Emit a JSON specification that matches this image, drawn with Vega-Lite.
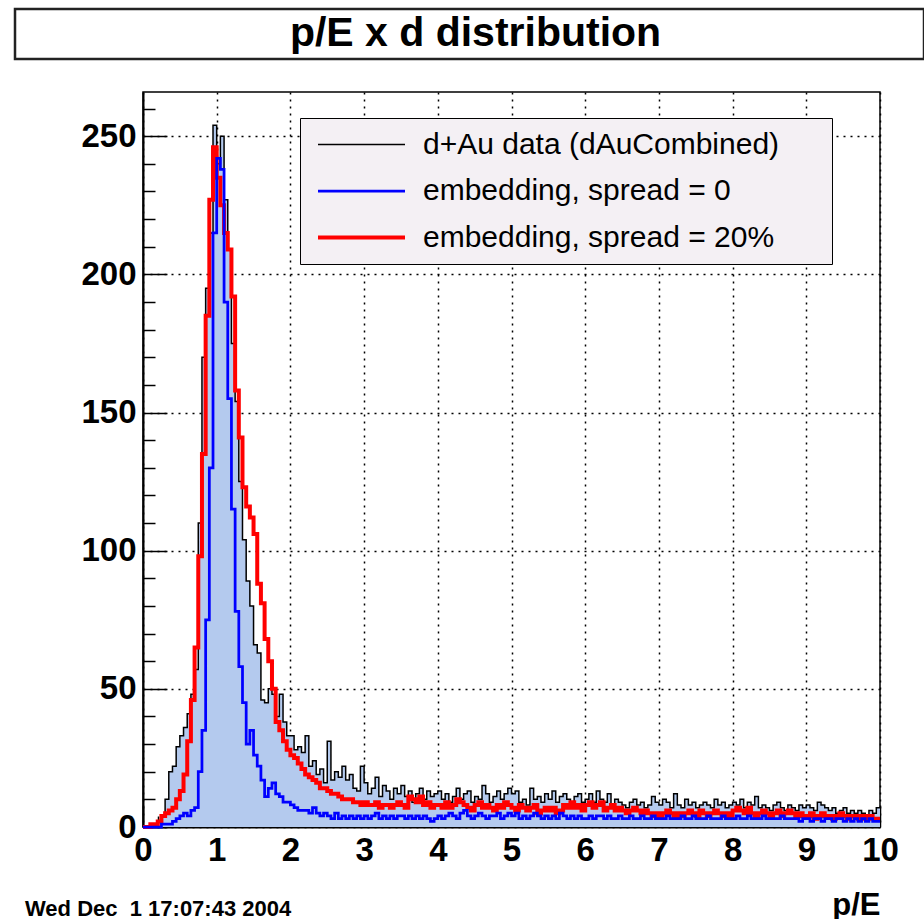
{
  "$schema": "https://vega.github.io/schema/vega-lite/v6.json",
  "background": "white",
  "padding": {"left": 13, "top": 7, "right": 0, "bottom": 0},
  "spacing": 30,
  "columns": 1,
  "config": {"font": "Liberation Sans", "view": {"stroke": null}},
  "concat": [
    {
      "width": 909,
      "height": 50,
      "view": {"stroke": "#222", "strokeWidth": 2.5, "fill": "white"},
      "data": {"values": [{"t": "p/E x d distribution"}]},
      "mark": {"type": "text", "font": "Liberation Sans", "fontWeight": "bold", "fontSize": 41, "color": "black", "dx": 6, "baseline": "middle"},
      "encoding": {"text": {"field": "t"}}
    },
    {
      "spacing": 0,
      "hconcat": [
    {
      "width": 1,
      "height": 10,
      "data": {"values": [{"t": ""}]},
      "mark": {"type": "text", "opacity": 0},
      "encoding": {"text": {"field": "t"}}
    },
    {
      "width": 737,
      "height": 735,
      "view": {"stroke": "black", "strokeWidth": 1.5},
      "title": {"text": "Wed Dec \u00a01 17:07:43 2004", "orient": "bottom", "anchor": "start", "frame": "group", "offset": -4, "dx": -118, "fontSize": 22, "fontWeight": "bold", "color": "black", "baseline": "alphabetic"},
      "data": {"values": [
        {"x":0.0,"d":0,"r":0,"b":0},{"x":0.05,"d":0,"r":0,"b":0},{"x":0.1,"d":1,"r":1,"b":0},{"x":0.15,"d":1,"r":1,"b":0},
        {"x":0.2,"d":2,"r":2,"b":0},{"x":0.25,"d":4,"r":4,"b":1},{"x":0.3,"d":10,"r":5,"b":1},{"x":0.35,"d":20,"r":6,"b":1},
        {"x":0.4,"d":22,"r":7,"b":2},{"x":0.45,"d":29,"r":10,"b":3},{"x":0.5,"d":33,"r":13,"b":4},{"x":0.55,"d":36,"r":19,"b":5},
        {"x":0.6,"d":41,"r":31,"b":4},{"x":0.65,"d":48,"r":46,"b":6},{"x":0.7,"d":57,"r":65,"b":7},{"x":0.75,"d":110,"r":98,"b":20},
        {"x":0.8,"d":170,"r":135,"b":35},{"x":0.85,"d":195,"r":185,"b":75},{"x":0.9,"d":215,"r":227,"b":130},{"x":0.95,"d":254,"r":246,"b":215},
        {"x":1.0,"d":240,"r":235,"b":242},{"x":1.05,"d":250,"r":225,"b":238},{"x":1.1,"d":227,"r":215,"b":190},{"x":1.15,"d":209,"r":209,"b":155},
        {"x":1.2,"d":175,"r":192,"b":115},{"x":1.25,"d":154,"r":158,"b":78},{"x":1.3,"d":125,"r":141,"b":58},{"x":1.35,"d":104,"r":123,"b":45},
        {"x":1.4,"d":89,"r":116,"b":30},{"x":1.45,"d":80,"r":112,"b":35},{"x":1.5,"d":66,"r":106,"b":26},{"x":1.55,"d":63,"r":88,"b":22},
        {"x":1.6,"d":46,"r":81,"b":17},{"x":1.65,"d":45,"r":68,"b":11},{"x":1.7,"d":50,"r":60,"b":14},{"x":1.75,"d":48,"r":50,"b":16},
        {"x":1.8,"d":40,"r":38,"b":12},{"x":1.85,"d":48,"r":35,"b":11},{"x":1.9,"d":38,"r":31,"b":9},{"x":1.95,"d":33,"r":28,"b":9},
        {"x":2.0,"d":33,"r":26,"b":8},{"x":2.05,"d":28,"r":25,"b":7},{"x":2.1,"d":29,"r":23,"b":6},{"x":2.15,"d":27,"r":21,"b":6},
        {"x":2.2,"d":33,"r":19,"b":6},{"x":2.25,"d":22,"r":18,"b":5},{"x":2.3,"d":24,"r":17,"b":7},{"x":2.35,"d":19,"r":16,"b":5},
        {"x":2.4,"d":21,"r":14,"b":4},{"x":2.45,"d":16,"r":14,"b":5},{"x":2.5,"d":31,"r":13,"b":4},{"x":2.55,"d":17,"r":12,"b":3},
        {"x":2.6,"d":20,"r":12,"b":5},{"x":2.65,"d":18,"r":11,"b":3},{"x":2.7,"d":22,"r":10,"b":4},{"x":2.75,"d":17,"r":10,"b":3},
        {"x":2.8,"d":19,"r":10,"b":4},{"x":2.85,"d":14,"r":9,"b":3},{"x":2.9,"d":13,"r":9,"b":4},{"x":2.95,"d":22,"r":8,"b":3},
        {"x":3.0,"d":16,"r":9,"b":4},{"x":3.05,"d":12,"r":8,"b":3},{"x":3.1,"d":14,"r":8,"b":4},{"x":3.15,"d":18,"r":9,"b":5},
        {"x":3.2,"d":11,"r":7,"b":3},{"x":3.25,"d":15,"r":8,"b":4},{"x":3.3,"d":13,"r":8,"b":3},{"x":3.35,"d":10,"r":7,"b":4},
        {"x":3.4,"d":14,"r":8,"b":3},{"x":3.45,"d":12,"r":9,"b":4},{"x":3.5,"d":15,"r":8,"b":4},{"x":3.55,"d":11,"r":7,"b":3},
        {"x":3.6,"d":13,"r":11,"b":4},{"x":3.65,"d":9,"r":10,"b":3},{"x":3.7,"d":12,"r":9,"b":4},{"x":3.75,"d":14,"r":11,"b":3},
        {"x":3.8,"d":10,"r":8,"b":4},{"x":3.85,"d":13,"r":9,"b":3},{"x":3.9,"d":11,"r":7,"b":2},{"x":3.95,"d":12,"r":8,"b":3},
        {"x":4.0,"d":13,"r":8,"b":4},{"x":4.05,"d":10,"r":7,"b":3},{"x":4.1,"d":12,"r":9,"b":4},{"x":4.15,"d":9,"r":7,"b":5},
        {"x":4.2,"d":11,"r":8,"b":4},{"x":4.25,"d":14,"r":10,"b":3},{"x":4.3,"d":10,"r":9,"b":5},{"x":4.35,"d":12,"r":8,"b":6},
        {"x":4.4,"d":13,"r":7,"b":4},{"x":4.45,"d":9,"r":6,"b":3},{"x":4.5,"d":11,"r":8,"b":4},{"x":4.55,"d":10,"r":9,"b":5},
        {"x":4.6,"d":15,"r":7,"b":4},{"x":4.65,"d":12,"r":8,"b":3},{"x":4.7,"d":9,"r":7,"b":4},{"x":4.75,"d":11,"r":6,"b":4},
        {"x":4.8,"d":13,"r":8,"b":5},{"x":4.85,"d":10,"r":7,"b":3},{"x":4.9,"d":12,"r":9,"b":4},{"x":4.95,"d":14,"r":8,"b":5},
        {"x":5.0,"d":12,"r":7,"b":4},{"x":5.05,"d":13,"r":6,"b":5},{"x":5.1,"d":9,"r":8,"b":3},{"x":5.15,"d":10,"r":7,"b":4},
        {"x":5.2,"d":8,"r":6,"b":3},{"x":5.25,"d":14,"r":7,"b":4},{"x":5.3,"d":10,"r":8,"b":5},{"x":5.35,"d":11,"r":5,"b":4},
        {"x":5.4,"d":9,"r":6,"b":3},{"x":5.45,"d":12,"r":7,"b":4},{"x":5.5,"d":10,"r":6,"b":3},{"x":5.55,"d":13,"r":7,"b":4},
        {"x":5.6,"d":9,"r":5,"b":3},{"x":5.65,"d":11,"r":6,"b":5},{"x":5.7,"d":12,"r":8,"b":4},{"x":5.75,"d":10,"r":7,"b":3},
        {"x":5.8,"d":8,"r":9,"b":4},{"x":5.85,"d":11,"r":7,"b":3},{"x":5.9,"d":12,"r":8,"b":4},{"x":5.95,"d":9,"r":6,"b":3},
        {"x":6.0,"d":10,"r":8,"b":3},{"x":6.05,"d":12,"r":9,"b":4},{"x":6.1,"d":9,"r":7,"b":3},{"x":6.15,"d":13,"r":8,"b":4},
        {"x":6.2,"d":10,"r":9,"b":4},{"x":6.25,"d":9,"r":6,"b":3},{"x":6.3,"d":12,"r":7,"b":4},{"x":6.35,"d":8,"r":8,"b":3},
        {"x":6.4,"d":10,"r":6,"b":3},{"x":6.45,"d":9,"r":7,"b":4},{"x":6.5,"d":8,"r":6,"b":3},{"x":6.55,"d":7,"r":5,"b":3},
        {"x":6.6,"d":9,"r":6,"b":4},{"x":6.65,"d":10,"r":7,"b":3},{"x":6.7,"d":8,"r":6,"b":3},{"x":6.75,"d":9,"r":5,"b":4},
        {"x":6.8,"d":7,"r":6,"b":3},{"x":6.85,"d":8,"r":5,"b":3},{"x":6.9,"d":11,"r":4,"b":4},{"x":6.95,"d":9,"r":5,"b":3},
        {"x":7.0,"d":8,"r":4,"b":3},{"x":7.05,"d":10,"r":5,"b":3},{"x":7.1,"d":9,"r":6,"b":4},{"x":7.15,"d":7,"r":5,"b":3},
        {"x":7.2,"d":12,"r":4,"b":3},{"x":7.25,"d":8,"r":5,"b":3},{"x":7.3,"d":7,"r":4,"b":4},{"x":7.35,"d":10,"r":5,"b":3},
        {"x":7.4,"d":8,"r":6,"b":3},{"x":7.45,"d":9,"r":5,"b":4},{"x":7.5,"d":7,"r":4,"b":3},{"x":7.55,"d":8,"r":6,"b":3},
        {"x":7.6,"d":9,"r":5,"b":3},{"x":7.65,"d":8,"r":4,"b":4},{"x":7.7,"d":7,"r":5,"b":3},{"x":7.75,"d":10,"r":6,"b":3},
        {"x":7.8,"d":8,"r":5,"b":3},{"x":7.85,"d":9,"r":4,"b":4},{"x":7.9,"d":7,"r":5,"b":3},{"x":7.95,"d":8,"r":4,"b":3},
        {"x":8.0,"d":9,"r":6,"b":3},{"x":8.05,"d":8,"r":7,"b":4},{"x":8.1,"d":10,"r":6,"b":3},{"x":8.15,"d":7,"r":5,"b":3},
        {"x":8.2,"d":9,"r":7,"b":4},{"x":8.25,"d":8,"r":5,"b":3},{"x":8.3,"d":11,"r":4,"b":3},{"x":8.35,"d":7,"r":5,"b":3},
        {"x":8.4,"d":8,"r":6,"b":4},{"x":8.45,"d":7,"r":5,"b":3},{"x":8.5,"d":6,"r":4,"b":3},{"x":8.55,"d":8,"r":5,"b":3},
        {"x":8.6,"d":9,"r":6,"b":3},{"x":8.65,"d":7,"r":4,"b":4},{"x":8.7,"d":6,"r":5,"b":3},{"x":8.75,"d":8,"r":6,"b":3},
        {"x":8.8,"d":7,"r":5,"b":3},{"x":8.85,"d":6,"r":4,"b":3},{"x":8.9,"d":8,"r":5,"b":2},{"x":8.95,"d":7,"r":4,"b":3},
        {"x":9.0,"d":8,"r":4,"b":3},{"x":9.05,"d":7,"r":5,"b":2},{"x":9.1,"d":6,"r":3,"b":3},{"x":9.15,"d":9,"r":4,"b":3},
        {"x":9.2,"d":8,"r":5,"b":2},{"x":9.25,"d":7,"r":4,"b":3},{"x":9.3,"d":6,"r":4,"b":3},{"x":9.35,"d":7,"r":3,"b":2},
        {"x":9.4,"d":5,"r":4,"b":3},{"x":9.45,"d":6,"r":5,"b":3},{"x":9.5,"d":7,"r":4,"b":2},{"x":9.55,"d":5,"r":3,"b":3},
        {"x":9.6,"d":6,"r":4,"b":2},{"x":9.65,"d":5,"r":4,"b":3},{"x":9.7,"d":6,"r":3,"b":2},{"x":9.75,"d":5,"r":4,"b":3},
        {"x":9.8,"d":4,"r":3,"b":2},{"x":9.85,"d":6,"r":4,"b":3},{"x":9.9,"d":5,"r":3,"b":2},{"x":9.95,"d":7,"r":3,"b":2},
        {"x":10.0,"d":7,"r":3,"b":2}
      ]},
      "layer": [
        {
          "mark": {"type": "area", "interpolate": "step-after", "color": "#b4caee"},
          "encoding": {
            "x": {"field": "x", "type": "quantitative",
              "scale": {"domain": [0, 10], "nice": false, "zero": false},
              "axis": {
                "title": "p/E", "titleAnchor": "end", "titleAlign": "right", "titleFontSize": 31, "titleFontWeight": "bold", "titleColor": "black", "titlePadding": 12,
                "tickCount": 1000,
                "values": [0,0.2,0.4,0.6,0.8,1,1.2,1.4,1.6,1.8,2,2.2,2.4,2.6,2.8,3,3.2,3.4,3.6,3.8,4,4.2,4.4,4.6,4.8,5,5.2,5.4,5.6,5.8,6,6.2,6.4,6.6,6.8,7,7.2,7.4,7.6,7.8,8,8.2,8.4,8.6,8.8,9,9.2,9.4,9.6,9.8,10],
                "labelExpr": "abs(datum.value-round(datum.value))<0.01 ? format(datum.value,'d') : ''",
                "labelFontSize": 33, "labelFontWeight": "bold", "labelColor": "black", "labelPadding": 29, "labelOverlap": false, "labelFlush": false, "labelBound": false,
                "domainColor": "black", "domainWidth": 2,
                "tickColor": "black", "tickWidth": 1.5,
                "tickSize": {"condition": {"test": "abs(datum.value-round(datum.value))<0.01", "value": -22}, "value": -11},
                "grid": true, "gridColor": "black", "gridDash": [2, 5], "gridWidth": 1.5,
                "gridOpacity": {"condition": {"test": "abs(datum.value-round(datum.value))<0.01", "value": 1}, "value": 0}
              }
            },
            "y": {"field": "d", "type": "quantitative",
              "scale": {"domain": [0, 266], "nice": false},
              "axis": {
                "title": null,
                "tickCount": 1000,
                "values": [0,10,20,30,40,50,60,70,80,90,100,110,120,130,140,150,160,170,180,190,200,210,220,230,240,250,260],
                "labelExpr": "datum.value % 50 == 0 ? format(datum.value,'d') : ''",
                "labelFontSize": 33, "labelFontWeight": "bold", "labelColor": "black", "labelPadding": 31, "labelOverlap": false, "labelFlush": false, "labelBound": false,
                "minExtent": 126, "maxExtent": 126,
                "domainColor": "black", "domainWidth": 2,
                "tickColor": "black", "tickWidth": 1.5,
                "tickSize": {"condition": {"test": "datum.value % 50 == 0", "value": -24}, "value": -12},
                "grid": true, "gridColor": "black", "gridDash": [2, 5], "gridWidth": 1.5,
                "gridOpacity": {"condition": {"test": "datum.value % 50 == 0", "value": 1}, "value": 0}
              }
            }
          }
        },
        {
          "transform": [{"fold": ["d", "r", "b"], "as": ["series", "value"]}],
          "mark": {"type": "line", "interpolate": "step-after"},
          "encoding": {
            "x": {"field": "x", "type": "quantitative"},
            "y": {"field": "value", "type": "quantitative"},
            "color": {"field": "series", "type": "nominal",
              "scale": {"domain": ["d", "b", "r"], "range": ["#000000", "#0000ff", "#ff0000"]},
              "legend": {
                "title": null, "orient": "none", "legendX": 285, "legendY": 109,
                "symbolType": "M-3,0H3", "symbolSize": 841, "symbolOffset": 34,
                "labelFont": "Liberation Sans", "labelFontSize": 30, "labelColor": "black", "labelLimit": 900,
                "labelExpr": "datum.label == 'd' ? 'd+Au data (dAuCombined)\u00a0\u00a0\u00a0\u00a0\u00a0\u200b' : datum.label == 'b' ? 'embedding, spread = 0' : 'embedding, spread = 20%'",
                "fillColor": "#f4f0f4", "strokeColor": "black",
                "padding": 11, "rowPadding": 15, "labelOffset": 45
              }
            },
            "strokeWidth": {"field": "series", "type": "nominal",
              "scale": {"domain": ["d", "b", "r"], "range": [1.5, 4, 4]}}
          }
        }
      ]
    }
      ]
    }
  ]
}
